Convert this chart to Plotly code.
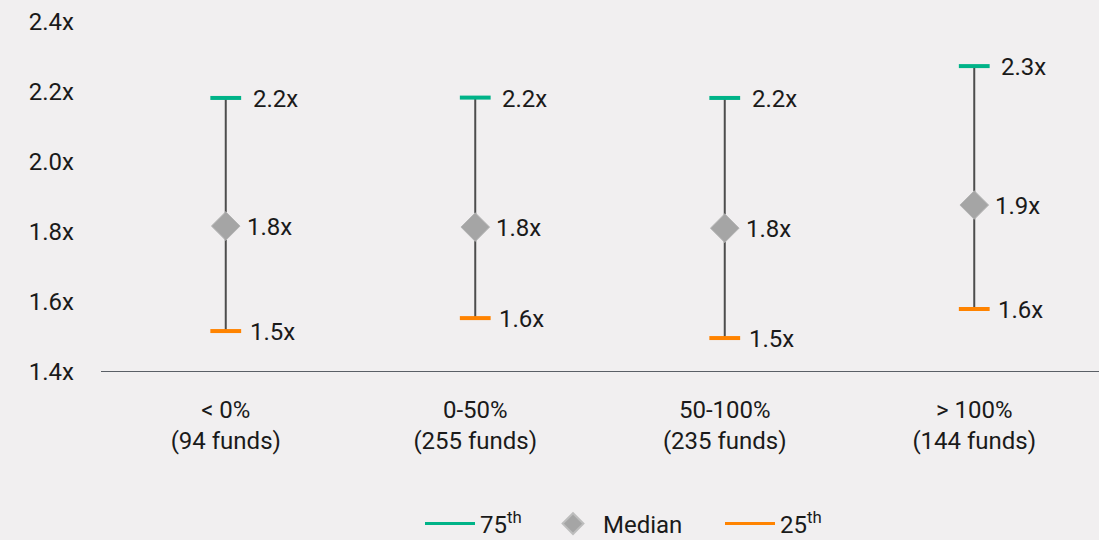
import plotly.graph_objects as go

categories = ["< 0%<br>(94 funds)", "0-50%<br>(255 funds)", "50-100%<br>(235 funds)", "> 100%<br>(144 funds)"]
p75 = [2.183, 2.184, 2.183, 2.274]
median = [1.817, 1.814, 1.811, 1.877]
p25 = [1.517, 1.554, 1.497, 1.580]
y_ticks = [1.4, 1.6, 1.8, 2.0, 2.2, 2.4]
y_tick_labels = ["1.4x", "1.6x", "1.8x", "2.0x", "2.2x", "2.4x"]

GREEN = "#00b388"
ORANGE = "#ff8300"
GRAY = "#a5a5a5"
BG = "#f1eff0"
FONT = "Roboto"
TXT = "#1a1a1a"
FS = 24
W, H = 1099, 540

xs = list(range(len(categories)))
fig = go.Figure()

# vertical range lines
lx, ly = [], []
for i in xs:
    lx += [i, i, None]
    ly += [p25[i], p75[i], None]
fig.add_trace(go.Scatter(x=lx, y=ly, mode="lines", line=dict(color="#4d4d4d", width=2),
                         showlegend=False, hoverinfo="skip"))

fig.add_trace(go.Scatter(x=xs, y=p75, mode="markers", showlegend=False,
                         marker=dict(symbol="line-ew", size=22, line=dict(color=GREEN, width=4))))
fig.add_trace(go.Scatter(x=xs, y=p25, mode="markers", showlegend=False,
                         marker=dict(symbol="line-ew", size=22, line=dict(color=ORANGE, width=4))))
fig.add_trace(go.Scatter(x=xs, y=median, mode="markers", showlegend=False,
                         marker=dict(symbol="diamond", size=22, color=GRAY, line=dict(color="#b5b5b5", width=1))))

# legend-only traces, each in its own legend for exact placement
fig.add_trace(go.Scatter(x=[None], y=[None], mode="lines", name="75<sup>th</sup>",
                         line=dict(color=GREEN, width=3), legend="legend"))
fig.add_trace(go.Scatter(x=[None], y=[None], mode="markers", name="Median",
                         marker=dict(symbol="diamond", size=28, color=GRAY, line=dict(color="#bdbdbd", width=2)),
                         legend="legend2"))
fig.add_trace(go.Scatter(x=[None], y=[None], mode="lines", name="25<sup>th</sup>",
                         line=dict(color=ORANGE, width=3), legend="legend3"))

annotations = []
for series, shift in ((p75, 25), (median, 19), (p25, 22)):
    for i in xs:
        annotations.append(dict(x=i, y=series[i], xref="x", yref="y", text=f"{series[i]:.1f}x",
                                showarrow=False, xanchor="left", yanchor="middle",
                                xshift=shift, yshift=-1, font=dict(family=FONT, size=FS, color=TXT)))

def leg(xpx):
    return dict(orientation="h", xref="container", yref="container", x=xpx / W, xanchor="left",
                y=1 - 524 / H, yanchor="middle", font=dict(family=FONT, size=FS, color=TXT),
                itemwidth=50, bgcolor="rgba(0,0,0,0)")

fig.update_layout(
    width=W, height=H,
    paper_bgcolor=BG, plot_bgcolor=BG,
    margin=dict(l=101, r=0, t=22, b=168),
    font=dict(family=FONT, size=FS, color=TXT),
    annotations=annotations,
    legend=leg(420),
    legend2=leg(543),
    legend3=leg(720),
)
fig.update_xaxes(range=[-0.5, 3.5], tickvals=xs, ticktext=categories, showgrid=False,
                 zeroline=False, showline=False, ticks="", ticklabelstandoff=21,
                 tickfont=dict(family=FONT, size=FS, color=TXT))
fig.update_yaxes(range=[1.4, 2.4], tickvals=y_ticks, ticktext=y_tick_labels, showgrid=False,
                 zeroline=False, showline=False, ticks="", ticklabelstandoff=26,
                 tickfont=dict(family=FONT, size=FS, color=TXT))

# baseline at 1.4
fig.add_shape(type="line", xref="paper", yref="y", x0=0, x1=1, y0=1.4, y1=1.4,
              line=dict(color="#5a5f66", width=2))

fig.write_html("out.html", config={"displayModeBar": False},
               post_script="document.body.style.margin='0';document.body.style.background='#f1eff0';")
